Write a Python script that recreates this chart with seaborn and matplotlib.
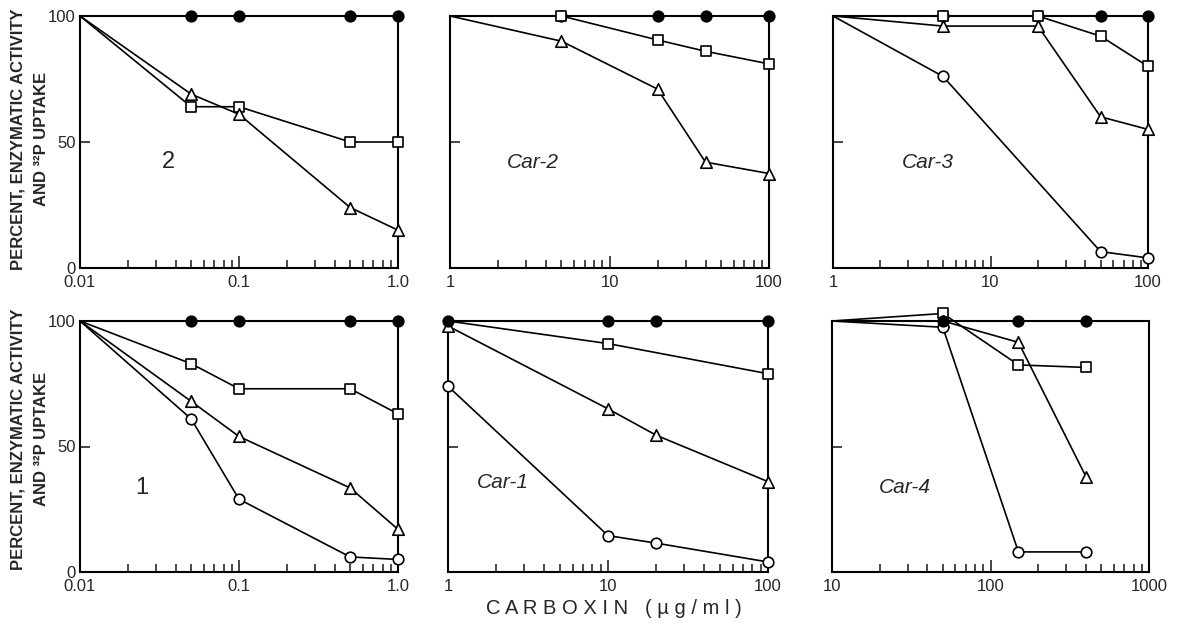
import numpy as np
import seaborn as sns
import matplotlib.pyplot as plt
from matplotlib.ticker import NullFormatter, LogLocator

sns.set_style("ticks")
plt.rcParams['font.family'] = ['Liberation Sans', 'DejaVu Sans']

# panel "2" (top left)
p2_x = [0.05, 0.1, 0.5, 1.0]
p2_closed = [100, 100, 100, 100]
p2_square = [64, 64, 50, 50]
p2_tri = [69, 61, 24, 15]

# panel Car-2
c2_x = [5, 20, 40, 100]
c2_closed = [100, 100, 100, 100]
c2_square = [100, 90.5, 86, 81]
c2_tri = [90, 71, 42, 37.5]

# panel Car-3
c3_x = [5, 20, 50, 100]
c3_closed = [100, 100, 100, 100]
c3_square = [100, 100, 92, 80]
c3_tri = [96, 96, 60, 55]
c3_circ_x = [5, 50, 100]
c3_circ = [76, 6.5, 4]

# panel "1" (bottom left)
p1_x = [0.05, 0.1, 0.5, 1.0]
p1_closed = [100, 100, 100, 100]
p1_square = [83, 73, 73, 63]
p1_tri = [68, 54, 33.5, 17]
p1_circ = [61, 29, 6, 5]

# panel Car-1
c1_x = [1, 10, 20, 100]
c1_closed = [100, 100, 100, 100]
c1_square_x = [10, 100]
c1_square = [91, 79]
c1_tri = [98, 65, 54.5, 36]
c1_circ = [74, 14.5, 11.5, 4]

# panel Car-4
c4_x = [50, 150, 400]
c4_closed = [100, 100, 100]
c4_square = [103, 82.5, 81.5]
c4_tri = [100, 91.5, 38]
c4_circ = [97.5, 8, 8]

W, H = 1184, 626
fig = plt.figure(figsize=(W / 100, H / 100), dpi=100)


def add_ax(left, right, top, bottom):
    return fig.add_axes([left / W, 1 - bottom / H, (right - left) / W, (bottom - top) / H])


def series(ax, x, y, marker, face, origin=None, size=58):
    lx, ly = list(x), list(y)
    if origin is not None:
        lx = [origin] + lx
        ly = [100] + ly
    sns.lineplot(x=lx, y=ly, ax=ax, color='black', lw=1.2, estimator=None,
                 sort=False, clip_on=False, zorder=2)
    sns.scatterplot(x=list(x), y=list(y), ax=ax, marker=marker, s=size, color=face,
                    edgecolor='black', linewidth=1.2, zorder=3, clip_on=False)


def style(ax, xlim, xlabels, ylabels, label, lx, ly, italic):
    ax.set_xscale('log')
    ax.set_xlim(*xlim)
    ax.set_ylim(0, 100)
    ticks = [xlim[0], xlim[0] * 10, xlim[1]]
    ax.set_xticks(ticks, labels=xlabels)
    ax.xaxis.set_minor_locator(LogLocator(base=10, subs=np.arange(2, 10)))
    ax.xaxis.set_minor_formatter(NullFormatter())
    ax.set_yticks([0, 50, 100])
    if ylabels:
        ax.set_yticklabels(['0', '50', '100'])
    else:
        ax.set_yticklabels([])
    ax.tick_params(axis='x', which='major', direction='in', length=9, width=1.2,
                   labelsize=12, pad=5)
    ax.tick_params(axis='x', which='minor', direction='in', length=5.5, width=1.2)
    ax.tick_params(axis='y', which='major', direction='in', length=7, width=1.2,
                   labelsize=12, pad=3)
    for sp in ax.spines.values():
        sp.set_visible(True)
        sp.set_linewidth(1.5)
        sp.set_color('black')
    ax.set_xlabel('')
    ax.set_ylabel('')
    ax.text(lx, ly, label, transform=ax.transAxes, ha='center', va='center',
            fontsize=17 if not italic else 15, style='italic' if italic else 'normal')


ylab = "PERCENT, ENZYMATIC ACTIVITY\nAND ³²P UPTAKE"

# top row
ax = add_ax(80, 398, 16, 268)
series(ax, p2_x, p2_closed, 'o', 'black', 0.01)
series(ax, p2_x, p2_square, 's', 'white', 0.01)
series(ax, p2_x, p2_tri, '^', 'white', 0.01, 68)
style(ax, (0.01, 1.0), ['0.01', '0.1', '1.0'], True, '2', 0.277, 0.42, False)

ax = add_ax(450, 769, 16, 268)
series(ax, c2_x, c2_closed, 'o', 'black', 1)
series(ax, c2_x, c2_square, 's', 'white', 1)
series(ax, c2_x, c2_tri, '^', 'white', 1, 68)
style(ax, (1, 100), ['1', '10', '100'], False, 'Car-2', 0.26, 0.417, True)

ax = add_ax(833, 1148, 16, 268)
series(ax, c3_x, c3_closed, 'o', 'black', 1)
series(ax, c3_x, c3_tri, '^', 'white', 1, 68)
series(ax, c3_x, c3_square, 's', 'white', 1)
series(ax, c3_circ_x, c3_circ, 'o', 'white', 1)
style(ax, (1, 100), ['1', '10', '100'], False, 'Car-3', 0.30, 0.417, True)

# bottom row
ax = add_ax(80, 398, 321, 572)
series(ax, p1_x, p1_closed, 'o', 'black', 0.01)
series(ax, p1_x, p1_square, 's', 'white', 0.01)
series(ax, p1_x, p1_tri, '^', 'white', 0.01, 68)
series(ax, p1_x, p1_circ, 'o', 'white', 0.01)
style(ax, (0.01, 1.0), ['0.01', '0.1', '1.0'], True, '1', 0.195, 0.335, False)

ax = add_ax(448, 768, 321, 572)
series(ax, c1_x, c1_circ, 'o', 'white')
series(ax, c1_x, c1_tri, '^', 'white', None, 68)
series(ax, c1_square_x, c1_square, 's', 'white', 1)
series(ax, c1_x, c1_closed, 'o', 'black')
style(ax, (1, 100), ['1', '10', '100'], False, 'Car-1', 0.17, 0.355, True)

ax = add_ax(832, 1149, 321, 572)
series(ax, c4_x, c4_square, 's', 'white', 10)
series(ax, c4_x, c4_tri, '^', 'white', 10, 68)
series(ax, c4_x, c4_circ, 'o', 'white', 10)
series(ax, c4_x, c4_closed, 'o', 'black', 10)
style(ax, (10, 1000), ['10', '100', '1000'], False, 'Car-4', 0.23, 0.335, True)

# shared axis titles
for yc in (139, 439):
    fig.text(30 / W, 1 - yc / H, ylab, rotation=90, ha='center', va='center',
             multialignment='center', fontsize=12, fontweight='bold', linespacing=1.75)

fig.text(614 / W, 1 - 608 / H, "C A R B O X I N   ( µ g / m l )", ha='center', va='center',
         fontsize=14.5)

fig.savefig('out.png', dpi=100)
